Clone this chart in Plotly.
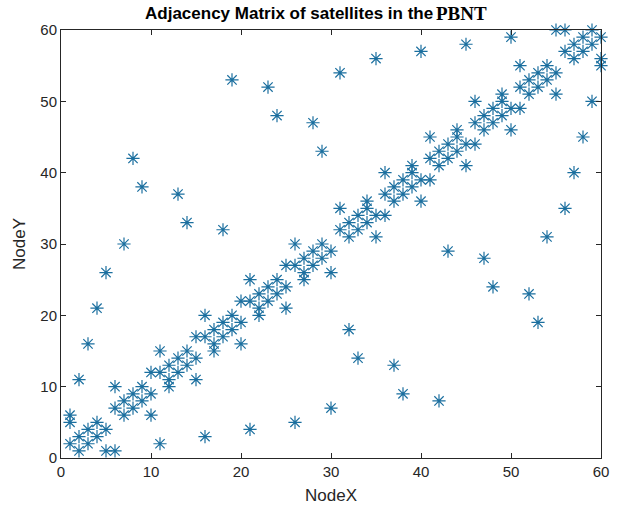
import plotly.graph_objects as go

# Adjacency matrix entries (NodeX, NodeY)
node_x = [1, 1, 1, 2, 2, 2, 3, 3, 3, 4, 4, 4, 5, 5, 5, 6, 6, 6, 7, 7, 7, 8, 8, 8,
          9, 9, 9, 10, 10, 10, 11, 11, 11, 12, 12, 12, 13, 13, 13, 14, 14, 14,
          15, 15, 15, 16, 16, 16, 17, 17, 17, 18, 18, 18, 19, 19, 19, 20, 20, 20,
          21, 21, 21, 22, 22, 22, 23, 23, 23, 24, 24, 24, 25, 25, 25, 26, 26, 26,
          27, 27, 27, 28, 28, 28, 29, 29, 29, 30, 30, 30,
          31, 31, 31, 32, 32, 32, 33, 33, 33, 34, 34, 34, 35, 35, 35, 36, 36, 36,
          37, 37, 37, 38, 38, 38, 39, 39, 39, 40, 40, 40, 41, 41, 41, 42, 42, 42,
          43, 43, 43, 44, 44, 44, 45, 45, 45, 46, 46, 46, 47, 47, 47, 48, 48, 48,
          49, 49, 49, 50, 50, 50, 51, 51, 51, 52, 52, 52, 53, 53, 53, 54, 54, 54,
          55, 55, 55, 56, 56, 56, 57, 57, 57, 58, 58, 58, 59, 59, 59, 60, 60, 60]
node_y = [2, 5, 6, 1, 3, 11, 2, 4, 16, 3, 5, 21, 1, 4, 26, 1, 7, 10, 6, 8, 30, 7, 9, 42,
          8, 10, 38, 6, 9, 12, 2, 12, 15, 10, 11, 13, 12, 14, 37, 13, 15, 33,
          11, 14, 17, 3, 17, 20, 15, 16, 18, 17, 19, 32, 18, 20, 53, 16, 19, 22,
          4, 22, 25, 20, 21, 23, 22, 24, 52, 23, 25, 48, 21, 24, 27, 5, 27, 30,
          25, 26, 28, 27, 29, 47, 28, 30, 43, 7, 26, 29,
          32, 35, 54, 18, 31, 33, 14, 32, 34, 33, 35, 36, 31, 34, 56, 34, 37, 40,
          13, 36, 38, 9, 37, 39, 38, 40, 41, 36, 39, 57, 39, 42, 45, 8, 41, 43,
          29, 42, 44, 43, 45, 46, 41, 44, 58, 44, 47, 50, 28, 46, 48, 24, 47, 49,
          48, 50, 51, 46, 49, 59, 49, 52, 55, 23, 51, 53, 19, 52, 54, 31, 53, 55,
          51, 54, 60, 35, 57, 60, 40, 56, 58, 45, 57, 59, 50, 58, 60, 55, 56, 59]

tick_vals = [0, 10, 20, 30, 40, 50, 60]
title_main = "Adjacency Matrix of satellites in the"
title_tail = "PBNT"

fig = go.Figure()
fig.add_trace(go.Scatter(
    x=node_x, y=node_y, mode="markers", cliponaxis=False,
    marker=dict(symbol="asterisk-open", size=11, color="#1b6f9f",
                line=dict(color="#1b6f9f", width=1.2)),
    showlegend=False,
))

axis_common = dict(
    range=[0, 60], tickvals=tick_vals, showgrid=False, zeroline=False,
    showline=True, linecolor="#262626", linewidth=1, mirror="ticks",
    ticks="inside", ticklen=5, tickcolor="#262626",
    tickfont=dict(family="Liberation Sans, Arial", size=15, color="#262626"),
)

fig.update_layout(
    width=621, height=516,
    margin=dict(l=61, r=17, t=30, b=58),
    paper_bgcolor="white", plot_bgcolor="white",
    title=dict(
        text="<b>" + title_main + "</b>",
        xref="container", x=145 / 621, xanchor="left", y=0.974, yanchor="middle",
        font=dict(family="Liberation Sans, Arial", size=17, color="#000000"),
    ),
    xaxis=dict(axis_common, title=dict(text="NodeX", standoff=10,
               font=dict(family="Liberation Sans, Arial", size=17, color="#262626"))),
    yaxis=dict(axis_common, title=dict(text="NodeY", standoff=10,
               font=dict(family="Liberation Sans, Arial", size=17, color="#262626"))),
    annotations=[dict(
        text="<b>" + title_tail + "</b>", xref="paper", yref="paper",
        x=(436 - 61) / 543, y=1 + (30 - 13.5) / 428, xanchor="left", yanchor="middle",
        showarrow=False,
        font=dict(family="Liberation Serif, Times New Roman, serif", size=19, color="#000000"),
    )],
)

fig.write_html("out.html")
